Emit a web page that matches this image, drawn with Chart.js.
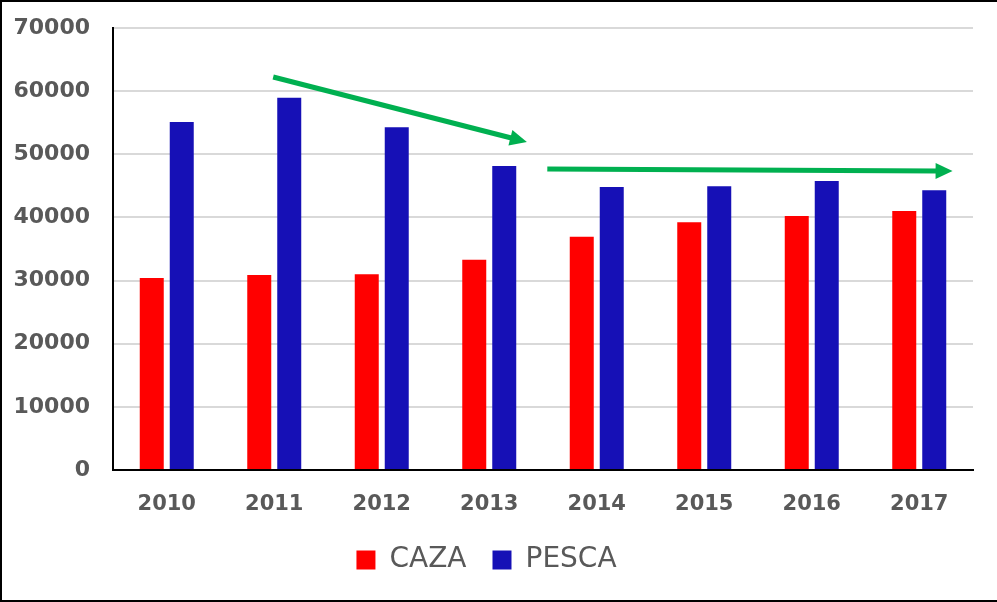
<!DOCTYPE html>
<html>
<head>
<meta charset="utf-8">
<script src="https://cdn.jsdelivr.net/npm/chart.js@4"></script>
<style>
  html, body { margin: 0; padding: 0; background: #fff; }
  #wrap { width: 997px; height: 602px; position: relative; }
</style>
</head>
<body>
<div id="wrap"><canvas id="c" width="997" height="602"></canvas></div>
<script>
const categories = ['2010', '2011', '2012', '2013', '2014', '2015', '2016', '2017'];
const cazaValues = [30400, 30900, 31000, 33300, 36950, 39230, 40230, 41000];
const pescaValues = [55100, 58950, 54300, 48150, 44820, 44930, 45770, 44300];
const seriesNames = ['CAZA', 'PESCA'];
const yTicks = [0, 10000, 20000, 30000, 40000, 50000, 60000, 70000];
// trend arrows in data coordinates: [fromIndex, fromValue, toIndex, toValue]
const arrowDown = [0.99, 62240, 3.35, 51950];
const arrowFlat = [3.54, 47670, 7.31, 47350];

const pagePlugin = {
  id: 'page',
  beforeDraw(chart) {
    const ctx = chart.ctx;
    ctx.save();
    ctx.fillStyle = '#ffffff';
    ctx.fillRect(0, 0, chart.width, chart.height);
    ctx.strokeStyle = '#000000';
    ctx.lineWidth = 2;
    ctx.beginPath();
    ctx.moveTo(1, chart.height - 1);
    ctx.lineTo(1, 1);
    ctx.lineTo(chart.width, 1);
    ctx.moveTo(0, chart.height - 1);
    ctx.lineTo(chart.width, chart.height - 1);
    ctx.stroke();
    ctx.restore();
  }
};

function drawArrow(chart, a) {
  const xs = chart.scales.x, ys = chart.scales.y;
  const x1 = xs.getPixelForValue(a[0]), y1 = ys.getPixelForValue(a[1]);
  const x2 = xs.getPixelForValue(a[2]), y2 = ys.getPixelForValue(a[3]);
  const ang = Math.atan2(y2 - y1, x2 - x1);
  const headLen = 17, headW = 8;
  const bx = x2 - headLen * Math.cos(ang), by = y2 - headLen * Math.sin(ang);
  const ctx = chart.ctx;
  ctx.save();
  ctx.strokeStyle = '#00B050';
  ctx.fillStyle = '#00B050';
  ctx.lineWidth = 5;
  ctx.beginPath();
  ctx.moveTo(x1, y1);
  ctx.lineTo(bx + Math.cos(ang), by + Math.sin(ang));
  ctx.stroke();
  ctx.beginPath();
  ctx.moveTo(x2, y2);
  ctx.lineTo(bx + headW * Math.sin(ang), by - headW * Math.cos(ang));
  ctx.lineTo(bx - headW * Math.sin(ang), by + headW * Math.cos(ang));
  ctx.closePath();
  ctx.fill();
  ctx.restore();
}

const arrowPlugin = {
  id: 'arrows',
  afterDatasetsDraw(chart) {
    drawArrow(chart, arrowDown);
    drawArrow(chart, arrowFlat);
  }
};

new Chart(document.getElementById('c'), {
  type: 'bar',
  data: {
    labels: categories,
    datasets: [
      { label: seriesNames[0], data: cazaValues, backgroundColor: '#FF0000', borderWidth: 0,
        categoryPercentage: 0.558, barPercentage: 0.8 },
      { label: seriesNames[1], data: pescaValues, backgroundColor: '#1610B6', borderWidth: 0,
        categoryPercentage: 0.558, barPercentage: 0.8 }
    ]
  },
  options: {
    responsive: false,
    animation: false,
    devicePixelRatio: 1,
    layout: { padding: { left: 0, right: 24, top: 28, bottom: 18 } },
    plugins: {
      legend: {
        position: 'bottom',
        labels: {
          boxWidth: 19, boxHeight: 19, padding: 26,
          color: '#595959',
          font: { family: 'DejaVu Sans', size: 28 }
        }
      },
      tooltip: { enabled: false }
    },
    scales: {
      x: {
        grid: { display: false, drawTicks: false },
        border: { display: true, color: '#000000', width: 2 },
        ticks: { color: '#595959', font: { family: 'DejaVu Sans', size: 21, weight: 'bold' }, padding: 22 },
        afterFit(scale) { scale.height = 50; }
      },
      y: {
        min: 0, max: 70000,
        afterBuildTicks(scale) { scale.ticks = yTicks.map(v => ({ value: v })); },
        grid: { color: '#D9D9D9', lineWidth: 2, drawTicks: false },
        border: { display: true, color: '#000000', width: 2 },
        ticks: { color: '#595959', font: { family: 'DejaVu Sans', size: 22, weight: 'bold' }, padding: 23,
          callback: v => String(v) },
        afterFit(scale) { scale.width = 113; scale.paddingTop = 12; scale.paddingBottom = 12; }
      }
    }
  },
  plugins: [pagePlugin, arrowPlugin]
});
</script>
</body>
</html>
